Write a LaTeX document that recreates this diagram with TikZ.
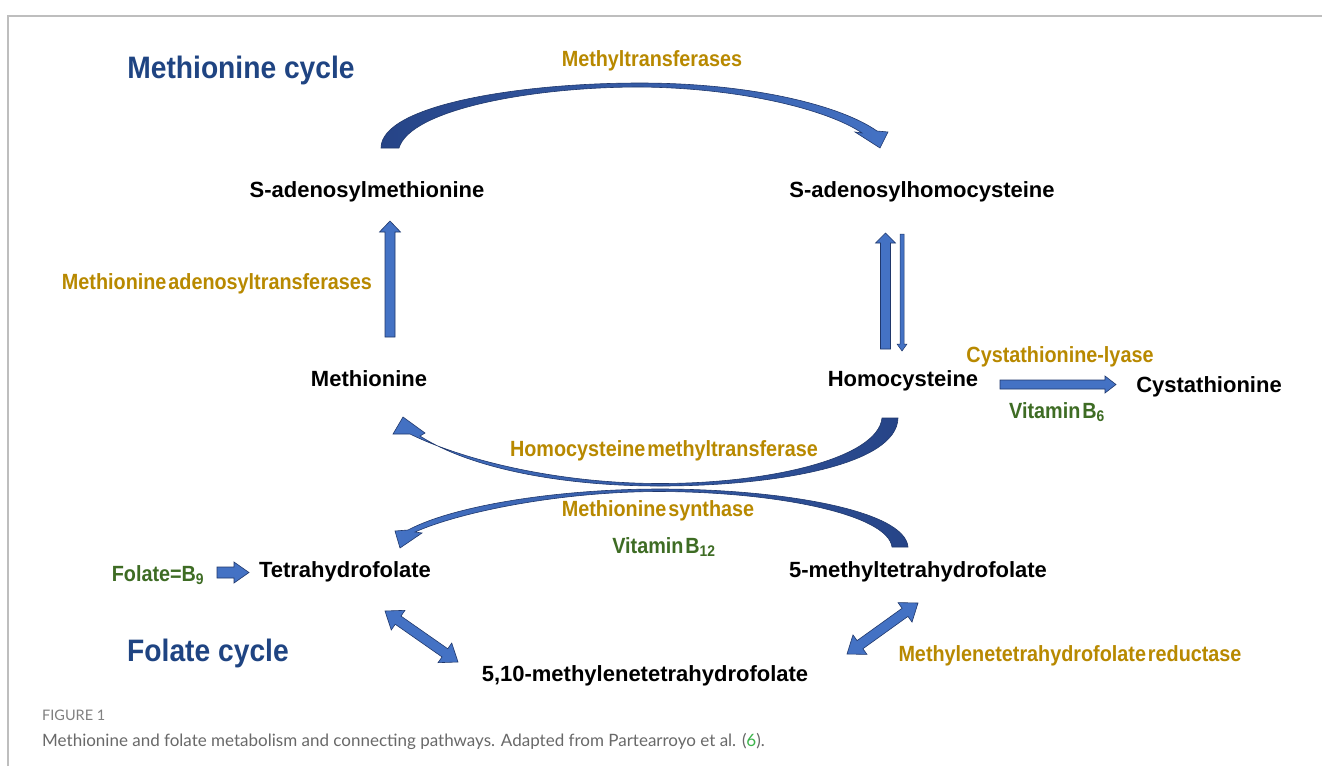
\documentclass[tikz,border=0pt]{standalone}
\usepackage{fontspec}
\setmainfont{Liberation Sans}
\newfontfamily\condfont[FakeStretch=0.9,WordSpace=0.35]{Liberation Sans}
\newfontfamily\ttlfont[FakeStretch=0.91]{Liberation Sans}
\newfontfamily\capfont{Lato}
\usetikzlibrary{calc}
\definecolor{figtitle}{RGB}{31,68,130}
\definecolor{figenz}{RGB}{184,137,0}
\definecolor{figvit}{RGB}{62,108,36}
\definecolor{figarrow}{RGB}{68,114,196}
\definecolor{figarrowd}{RGB}{38,68,135}
\definecolor{figedge}{RGB}{32,56,108}
\definecolor{figframe}{RGB}{190,190,190}
\definecolor{figcap}{RGB}{105,105,105}
\definecolor{figref}{RGB}{60,180,75}
\tikzset{
  mol/.style  ={font=\fontsize{22}{24}\selectfont\bfseries, anchor=base, inner sep=0pt},
  enz/.style  ={font=\condfont\fontsize{22}{24}\selectfont\bfseries, text=figenz, anchor=base, inner sep=0pt},
  vit/.style  ={enz, text=figvit},
  ttl/.style  ={font=\ttlfont\fontsize{31}{34}\selectfont\bfseries, text=figtitle, anchor=base, inner sep=0pt},
  captext/.style ={font=\capfont\fontsize{17}{20}\selectfont, text=figcap, anchor=base west, inner sep=0pt},
  arr/.style  ={fill=figarrow, draw=figedge, line width=0.6pt, line join=miter},
  carr/.style ={draw=figedge, line width=0.6pt, line join=miter},
}
% block arrow: [opts]{from}{to}{shaft half}{head half}{head length}
\newcommand{\blockarrow}[6][]{%
  \coordinate (ba-h) at ($(#3)!#6!(#2)$);
  \filldraw[arr,#1] ($(#2)!#4!90:(#3)$) -- ($(ba-h)!#4!-90:(#2)$) -- ($(ba-h)!#5!-90:(#2)$)
    -- (#3) -- ($(ba-h)!#5!90:(#2)$) -- ($(ba-h)!#4!90:(#2)$) -- ($(#2)!#4!-90:(#3)$) -- cycle;
}
% double block arrow, same arguments
\newcommand{\dblockarrow}[6][]{%
  \coordinate (ba-h1) at ($(#2)!#6!(#3)$);
  \coordinate (ba-h2) at ($(#3)!#6!(#2)$);
  \filldraw[arr,#1] (#2) -- ($(ba-h1)!#5!90:(#3)$) -- ($(ba-h1)!#4!90:(#3)$)
    -- ($(ba-h2)!#4!-90:(#2)$) -- ($(ba-h2)!#5!-90:(#2)$) -- (#3)
    -- ($(ba-h2)!#5!90:(#2)$) -- ($(ba-h2)!#4!90:(#2)$)
    -- ($(ba-h1)!#4!-90:(#3)$) -- ($(ba-h1)!#5!-90:(#3)$) -- cycle;
}

\begin{document}
\begin{tikzpicture}[x=1pt,y=-1pt]
  \useasboundingbox (0,0) rectangle (1322,766);
  \fill[white] (0,0) rectangle (1322,766);
  \draw[figframe, line width=1.4pt] (8,766) -- (8,16) -- (1322,16);

  % titles
  \node[ttl] (mcyc) at (241,78) {Methionine cycle};
  \node[ttl] (fcyc) at (208,661) {Folate cycle};

  % metabolites
  \node[mol] (sam)   at (367,197) {S-adenosylmethionine};
  \node[mol] (sah)   at (922,197) {S-adenosylhomocysteine};
  \node[mol] (met)   at (369,386) {Methionine};
  \node[mol] (hcy)   at (903,386) {Homocysteine};
  \node[mol] (cys)   at (1209,392) {Cystathionine};
  \node[mol] (thf)   at (345,577) {Tetrahydrofolate};
  \node[mol] (mthf)  at (918,577) {5-methyltetrahydrofolate};
  \node[mol] (mlthf) at (645,681) {5,10-methylenetetrahydrofolate};

  % enzymes and cofactors
  \node[enz] (mtr)   at (652,66)  {Methyltransferases};
  \node[enz] (mat)   at (217,289) {Methionine adenosyltransferases};
  \node[enz] (cgl)   at (1060,362) {Cystathionine-lyase};
  \node[vit] (vb6)   at (1057,418) {Vitamin B\textsubscript{6}};
  \node[enz] (bhmt)  at (664,456) {Homocysteine methyltransferase};
  \node[enz] (ms)    at (658,516) {Methionine synthase};
  \node[vit] (vb12)  at (664,553) {Vitamin B\textsubscript{12}};
  \node[vit] (fol)   at (158,581) {Folate=B\textsubscript{9}};
  \node[enz] (mthfr) at (1070,661) {Methylenetetrahydrofolate reductase};

  % straight arrows
  \coordinate (met-n) at (390,337);  \coordinate (sam-s) at (390,221);
  \coordinate (hcy-n) at (885.5,349); \coordinate (sah-s) at (885.5,233);
  \coordinate (sah-r) at (902,234);  \coordinate (hcy-r) at (902,351);
  \coordinate (hcy-e) at (1000,384.5); \coordinate (cys-w) at (1116,384.5);
  \coordinate (fol-e) at (217,572.5); \coordinate (thf-w) at (249,572.5);
  \coordinate (thf-s) at (385,611);  \coordinate (mlthf-w) at (458,662);
  \coordinate (mthf-s) at (918,603); \coordinate (mlthf-e) at (847,654);
  \blockarrow{met-n}{sam-s}{5pt}{10.5pt}{11pt}
  \blockarrow{hcy-n}{sah-s}{5pt}{10pt}{10pt}
  \blockarrow[line width=0.5pt]{sah-r}{hcy-r}{2pt}{5pt}{7pt}
  \blockarrow{hcy-e}{cys-w}{4.5pt}{8.5pt}{11pt}
  \blockarrow{fol-e}{thf-w}{5.5pt}{10.5pt}{15pt}
  \dblockarrow{thf-s}{mlthf-w}{5pt}{12pt}{16pt}
  \dblockarrow{mthf-s}{mlthf-e}{5pt}{12pt}{16pt}

  % curved arrows
  \path[carr, left color=figarrowd, right color=figarrow]
    (381,148) .. controls (381,105) and (520,83) .. (640,83)
    .. controls (750,83) and (840,105) .. (877,131)
    -- (888,132) -- (880,148) -- (855,132) -- (862,133)
    .. controls (830,111) and (745,88) .. (640,87)
    .. controls (530,87) and (410,110) .. (399,148) -- cycle;
  \path[carr, left color=figarrow, right color=figarrowd]
    (898,418) .. controls (897,465) and (775,486) .. (660,486)
    .. controls (560,486) and (470,468) .. (420,436)
    -- (425,433) -- (403,417) -- (393,434) -- (410,434)
    .. controls (465,461) and (560,483.5) .. (660,483.5)
    .. controls (770,483.5) and (878,458) .. (882,418) -- cycle;
  \path[carr, left color=figarrow, right color=figarrowd]
    (908,547) .. controls (905,510) and (780,489) .. (660,489)
    .. controls (560,489) and (455,505) .. (408,530)
    -- (395,531) -- (400,548) -- (422,533) -- (415,532)
    .. controls (460,512) and (560,491.5) .. (660,491.5)
    .. controls (780,492) and (888,515) .. (892,547) -- cycle;

  % caption
  \node[captext, font=\capfont\fontsize{14.5}{16}\selectfont, text=figcap!85] (fig) at (42,720) {FIGURE 1};
  \node[captext] (capt) at (42,746) {Methionine and folate metabolism and connecting pathways. Adapted from Partearroyo et al. ({\color{figref}6}).};
\end{tikzpicture}
\end{document}
